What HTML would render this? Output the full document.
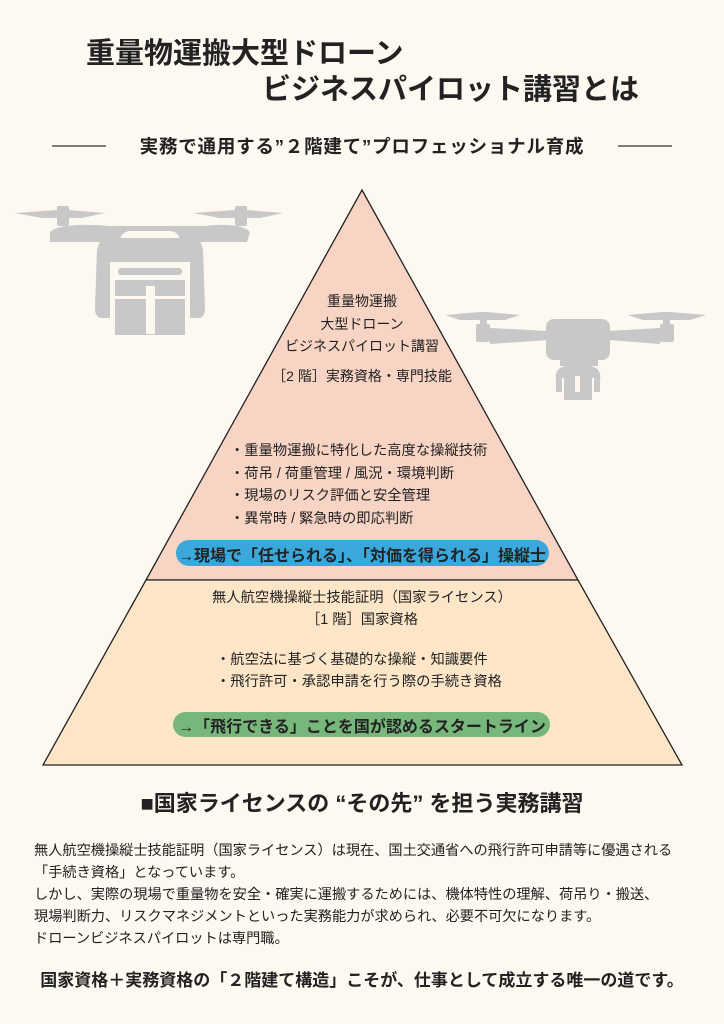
<!DOCTYPE html>
<html><head><meta charset="utf-8"><style>
body{margin:0;background:#fdf8f0;}
#p{position:relative;width:724px;height:1024px;overflow:hidden;background:#fdf8f0;font-family:"Liberation Sans","Noto Sans CJK JP",sans-serif;color:#222;}
.t{position:absolute;white-space:nowrap;}
.c{position:absolute;left:0;width:724px;text-align:center;white-space:nowrap;}
</style></head><body><div id="p">
<svg width="724" height="1024" style="position:absolute;left:0;top:0">
<line x1="52" y1="146" x2="106" y2="146" stroke="#333" stroke-width="1.2"/>
<line x1="618" y1="146" x2="672" y2="146" stroke="#333" stroke-width="1.2"/>
<g fill="#c8c8c8">
<polygon points="15,213 57,210 57,218 42,218"/><polygon points="69,210 105,213 82,218 69,218"/>
<rect x="57" y="206" width="12" height="20" rx="2"/>
<polygon points="193,213 235,210 235,218 220,218"/><polygon points="247,210 283,213 260,218 247,218"/>
<rect x="235" y="206" width="12" height="20" rx="2"/>
<path d="M50,232 Q60,222 110,226 L205,226 Q240,222 250,232 L247,242 L50,242 Z"/>
<rect x="120" y="231" width="60" height="20" rx="10" fill="#fdf8f0"/>
<path d="M97,250 Q100,235 110,238 L190,238 Q200,235 203,250 L205,308 Q205,318 198,318 L190,318 L190,262 L110,262 L110,318 L102,318 Q95,318 95,308 Z"/>
<rect x="118" y="268" width="64" height="7" rx="3"/>
<rect x="115" y="280" width="70" height="16"/>
<rect x="115" y="299" width="70" height="36"/>
<rect x="146" y="286" width="9" height="48" fill="#fdf8f0"/>
<polygon points="445,315 480,312 480,320 460,320"/><polygon points="487,312 520,315 505,320 487,320"/>
<polygon points="628,315 663,312 663,320 643,320"/><polygon points="670,312 706,315 690,320 670,320"/>
<rect x="480" y="312" width="7" height="16"/><rect x="663" y="312" width="7" height="16"/>
<rect x="476" y="324" width="14" height="18" rx="2"/><rect x="660" y="324" width="14" height="18" rx="2"/>
<polygon points="490,328 548,331 548,340 490,344"/><polygon points="608,331 660,328 660,344 608,340"/>
<rect x="546" y="319" width="64" height="41" rx="8"/>
<rect x="560" y="360" width="38" height="6"/>
<path d="M556,380 Q554,368 566,366 L590,366 Q602,368 600,380 L600,392 L594,392 L594,378 L562,378 L562,392 L556,392 Z"/>
<rect x="564" y="376" width="28" height="24"/>
<rect x="575" y="376" width="5" height="16" fill="#fdf8f0"/>
</g>
<polygon points="362,190 578,580 146,580" fill="#f8d4c4" stroke="#222" stroke-width="1.3"/>
<polygon points="146,580 578,580 682,765 43,765" fill="#fde6c8" stroke="#222" stroke-width="1.3"/>
<rect x="176" y="540" width="373" height="26" rx="13" fill="#3ba8dc"/>
<rect x="173" y="712" width="377" height="25" rx="12.5" fill="#78b77c"/>
</svg>
<div class="t" style="left:86px;top:30px;font-size:29px;font-weight:bold;">重量物運搬大型ドローン</div>
<div class="t" style="left:262px;top:66px;font-size:29px;font-weight:bold;">ビジネスパイロット講習とは</div>
<div class="c" style="top:133px;font-size:18.5px;font-weight:bold;letter-spacing:0.8px;">実務で通用する”２階建て”プロフェッショナル育成</div>
<div class="c" style="top:290px;font-size:14px;line-height:22.5px;">重量物運搬<br>大型ドローン<br>ビジネスパイロット講習</div>
<div class="c" style="top:366px;font-size:14px;">［2 階］実務資格・専門技能</div>
<div class="t" style="left:230px;top:440px;font-size:14.3px;line-height:22.7px;">・重量物運搬に特化した高度な操縦技術<br>・荷吊 / 荷重管理 / 風況・環境判断<br>・現場のリスク評価と安全管理<br>・異常時 / 緊急時の即応判断</div>
<div class="c" style="top:542px;font-size:16px;font-weight:bold;">→現場で「任せられる」、「対価を得られる」操縦士</div>
<div class="c" style="top:587px;font-size:14.3px;line-height:22px;">無人航空機操縦士技能証明（国家ライセンス）<br>［1 階］国家資格</div>
<div class="t" style="left:216px;top:649px;font-size:14.3px;line-height:22px;">・航空法に基づく基礎的な操縦・知識要件<br>・飛行許可・承認申請を行う際の手続き資格</div>
<div class="c" style="top:713px;font-size:16px;font-weight:bold;">→「飛行できる」ことを国が認めるスタートライン</div>
<div class="c" style="top:786px;font-size:22px;font-weight:bold;">■国家ライセンスの “その先” を担う実務講習</div>
<div class="t" style="left:34px;top:840px;font-size:14.2px;line-height:22px;">無人航空機操縦士技能証明（国家ライセンス）は現在、国土交通省への飛行許可申請等に優遇される<br>「手続き資格」となっています。<br>しかし、実際の現場で重量物を安全・確実に運搬するためには、機体特性の理解、荷吊り・搬送、<br>現場判断力、リスクマネジメントといった実務能力が求められ、必要不可欠になります。<br>ドローンビジネスパイロットは専門職。</div>
<div class="c" style="top:966px;font-size:17px;font-weight:bold;">国家資格＋実務資格の「２階建て構造」こそが、仕事として成立する唯一の道です。</div>
</div></body></html>
